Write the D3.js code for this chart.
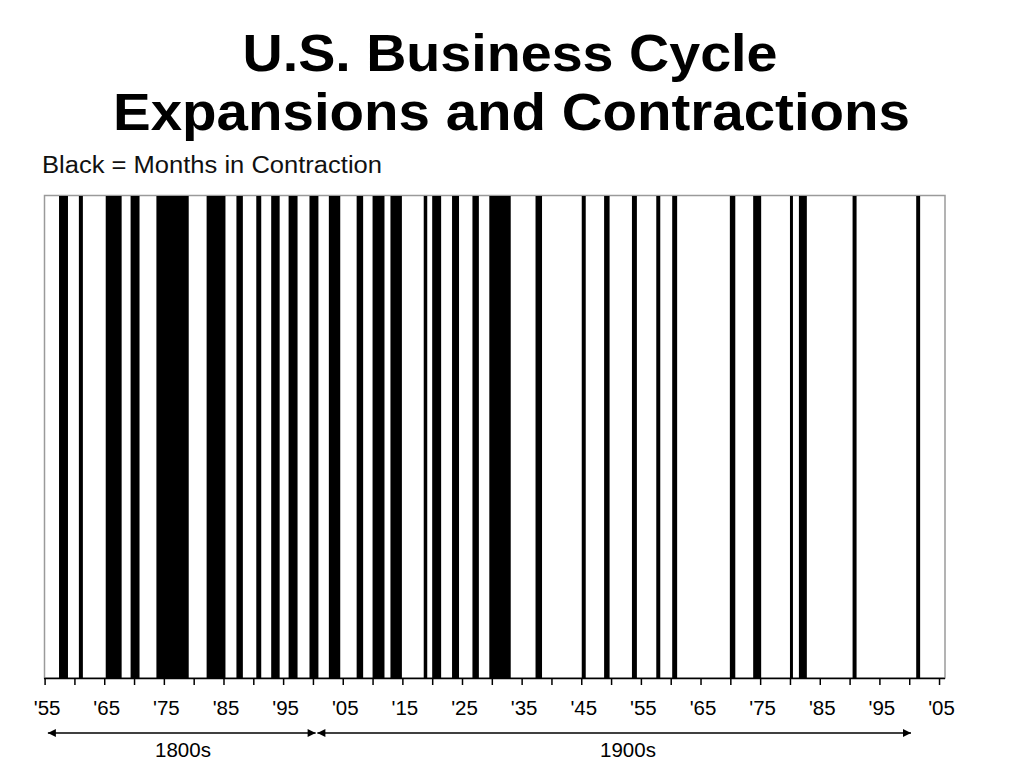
<!DOCTYPE html>
<html>
<head>
<meta charset="utf-8">
<script src="https://cdn.jsdelivr.net/npm/d3@7"></script>
<style>
  html, body { margin: 0; padding: 0; background: #fff; }
  svg { display: block; }
  text { font-family: "Liberation Sans", Arial, Helvetica, sans-serif; }
</style>
</head>
<body>
<svg id="chart" width="1024" height="768"></svg>
<script>
// NBER business cycle peaks (start of contraction) and troughs (end), decimal years
const peaks = [1857.42, 1860.75, 1865.25, 1869.42, 1873.75, 1882.17, 1887.17, 1890.5, 1893.0, 1895.92,
  1899.42, 1902.67, 1907.33, 1910.0, 1913.0, 1918.58, 1920.0, 1923.33, 1926.75, 1929.58,
  1937.33, 1945.08, 1948.83, 1953.5, 1957.58, 1960.25, 1969.92, 1973.83, 1980.0, 1981.5,
  1990.5, 2001.17];
const troughs = [1858.92, 1861.42, 1867.92, 1870.92, 1879.17, 1885.33, 1888.25, 1891.33, 1894.42, 1897.42,
  1900.92, 1904.58, 1908.42, 1912.0, 1914.92, 1919.17, 1921.5, 1924.5, 1927.83, 1933.17,
  1938.42, 1945.75, 1949.75, 1954.33, 1958.25, 1961.08, 1970.83, 1975.17, 1980.5, 1982.83,
  1991.17, 2001.83];
const tickYears = d3.range(1855, 2006, 5);
const labelYears = d3.range(1855, 2006, 10);
const centuries = [
  { label: "1800s", start: 1855.55, end: 1900.45 },
  { label: "1900s", start: 1900.75, end: 2000.3 }
];

const svg = d3.select("#chart");
const x = d3.scaleLinear().domain([1855, 2006]).range([44.6, 945]);
const plotTop = 196, plotBottom = 678;

// Title
svg.append("text").attr("x", 510).attr("y", 70.5).attr("text-anchor", "middle")
  .attr("font-weight", "bold").attr("font-size", 52).attr("fill", "#000")
  .attr("textLength", 535).attr("lengthAdjust", "spacingAndGlyphs")
  .text("U.S. Business Cycle");
svg.append("text").attr("x", 511.5).attr("y", 130).attr("text-anchor", "middle")
  .attr("font-weight", "bold").attr("font-size", 51).attr("fill", "#000")
  .attr("textLength", 797).attr("lengthAdjust", "spacingAndGlyphs")
  .text("Expansions and Contractions");

// Subtitle
svg.append("text").attr("x", 42).attr("y", 173).attr("font-size", 23).attr("fill", "#111")
  .attr("textLength", 340).attr("lengthAdjust", "spacingAndGlyphs")
  .text("Black = Months in Contraction");

// Frame
svg.append("rect").attr("x", 44.5).attr("y", plotTop - 0.5)
  .attr("width", 945 - 44.5).attr("height", plotBottom - plotTop + 0.5)
  .attr("fill", "#fff").attr("stroke", "#9a9a9a").attr("stroke-width", 1.5);

// Bars
const data = peaks.map((p, i) => ({ start: p, end: troughs[i] }));
svg.append("g").selectAll("rect").data(data).join("rect")
  .attr("x", d => x(d.start))
  .attr("width", d => x(d.end) - x(d.start))
  .attr("y", plotTop)
  .attr("height", plotBottom - plotTop)
  .attr("fill", "#000");

// Axis
const axis = d3.axisBottom(x).tickValues(tickYears).tickSize(7).tickFormat("");
const ag = svg.append("g").attr("transform", `translate(0,${plotBottom})`).call(axis);
ag.select(".domain").attr("stroke", "#000").attr("stroke-width", 1.5)
  .attr("d", `M44,0.5H945`);
ag.selectAll(".tick line").attr("stroke", "#000").attr("stroke-width", 1.5);

svg.append("g").selectAll("text").data(labelYears).join("text")
  .attr("x", d => x(d) + 2.5)
  .attr("y", 715)
  .attr("text-anchor", "middle")
  .attr("font-size", 20.5)
  .attr("fill", "#000")
  .text(d => "'" + String(d % 100).padStart(2, "0"));

// Century arrows
const defs = svg.append("defs");
defs.append("marker").attr("id", "ah").attr("viewBox", "0 0 10 10")
  .attr("refX", 10).attr("refY", 5).attr("markerWidth", 9).attr("markerHeight", 8)
  .attr("markerUnits", "userSpaceOnUse").attr("orient", "auto-start-reverse")
  .append("path").attr("d", "M0,0L10,5L0,10Z").attr("fill", "#000");

const cg = svg.append("g").selectAll("g").data(centuries).join("g");
cg.append("line")
  .attr("x1", d => x(d.start)).attr("x2", d => x(d.end))
  .attr("y1", 733).attr("y2", 733)
  .attr("stroke", "#000").attr("stroke-width", 1.3)
  .attr("marker-start", "url(#ah)").attr("marker-end", "url(#ah)");
cg.append("text")
  .attr("x", (d, i) => i === 0 ? 183 : 628)
  .attr("y", 757)
  .attr("text-anchor", "middle")
  .attr("font-size", 20.5)
  .attr("fill", "#000")
  .text(d => d.label);
</script>
</body>
</html>
